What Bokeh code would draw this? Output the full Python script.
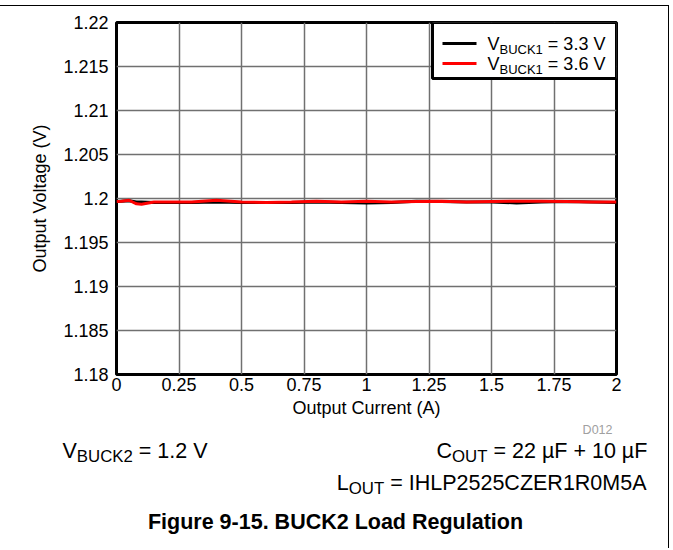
from bokeh.plotting import figure
from bokeh.layouts import column, row
from bokeh.models import Label, BoxAnnotation, FixedTicker, CustomJSTickFormatter
from bokeh.embed import file_html
from bokeh.resources import INLINE

# ---------------- data ----------------
current_a = [0.0, 0.02, 0.05, 0.08, 0.1, 0.15, 0.2, 0.3, 0.4, 0.5, 0.6, 0.7, 0.8, 0.9,
             1.0, 1.1, 1.2, 1.3, 1.4, 1.5, 1.6, 1.7, 1.8, 1.9, 2.0]
vout_33 = [1.19965, 1.1997, 1.19975, 1.1996, 1.1996, 1.19955, 1.19955, 1.19955, 1.1996,
           1.19955, 1.19955, 1.19955, 1.1996, 1.19955, 1.1995, 1.19955, 1.1997, 1.19965,
           1.1996, 1.1996, 1.1995, 1.1996, 1.19965, 1.1996, 1.19955]
vout_36 = [1.19965, 1.1997, 1.1998, 1.1994, 1.19935, 1.1996, 1.1996, 1.1996, 1.1998,
           1.1996, 1.19955, 1.1996, 1.1997, 1.1996, 1.1997, 1.1996, 1.19965, 1.1997,
           1.1996, 1.19965, 1.1997, 1.1997, 1.19965, 1.1996, 1.1996]
x_ticks = [0, 0.25, 0.5, 0.75, 1.0, 1.25, 1.5, 1.75, 2.0]
y_ticks = [1.18, 1.185, 1.19, 1.195, 1.2, 1.205, 1.21, 1.215, 1.22]
series = [("BUCK1", "= 3.3 V", vout_33, "black"), ("BUCK1", "= 3.6 V", vout_36, "#ff0000")]

FONT = "Liberation Sans"

# Arial advance widths (1/1000 em)
W = {" ": 278, "=": 584, ".": 278, "+": 584, "µ": 556, "A": 667, "B": 667, "C": 722,
     "E": 667, "F": 611, "H": 722, "I": 278, "K": 667, "L": 556, "M": 833, "O": 778,
     "P": 667, "R": 722, "T": 611, "U": 722, "V": 667, "Z": 611}


def tw(s, size):
    return sum(W.get(c, 556) for c in s) * size / 1000.0


# page geometry (page pixels); content starts OY below the page top, under the border
OY = 6
FL, FT, FR, FB = 116, 22, 616, 374
CH_W, CH_H = 668, 416
N_H = 126

p = figure(width=CH_W, height=CH_H, x_range=(0, 2), y_range=(1.18, 1.22),
           output_backend="svg", toolbar_location=None,
           min_border_left=FL, min_border_right=CH_W - FR, min_border_top=FT - OY,
           min_border_bottom=CH_H - (FB - OY))
p.outline_line_color = "black"
p.outline_line_width = 3
p.outline_line_alpha = 1.0

fmt = CustomJSTickFormatter(code="return String(parseFloat(tick.toFixed(4)))")
p.xaxis.ticker = FixedTicker(ticks=x_ticks)
p.yaxis.ticker = FixedTicker(ticks=y_ticks)
p.xgrid.ticker = FixedTicker(ticks=x_ticks)
p.ygrid.ticker = FixedTicker(ticks=y_ticks)
for ax in (p.xaxis, p.yaxis):
    ax.formatter = fmt
    ax.axis_line_color = None
    ax.major_tick_line_color = None
    ax.minor_tick_line_color = None
    ax.major_tick_out = 0
    ax.major_tick_in = 0
    ax.minor_tick_out = 0
    ax.minor_tick_in = 0
    ax.major_label_text_font = FONT
    ax.major_label_text_font_size = "18px"
    ax.major_label_text_color = "black"
    ax.axis_label_text_font = FONT
    ax.axis_label_text_font_size = "18px"
    ax.axis_label_text_font_style = "normal"
    ax.axis_label_text_color = "black"
p.xaxis.axis_label = "Output Current (A)"
p.yaxis.axis_label = "Output Voltage (V)"
p.xaxis.major_label_standoff = 3
p.yaxis.major_label_standoff = 8
p.xaxis.axis_label_standoff = 4
p.yaxis.axis_label_standoff = 10
for g in (p.xgrid, p.ygrid):
    g.grid_line_color = "#707070"
    g.grid_line_width = 1.5

for _, _, vals, col in series:
    p.line(current_a, vals, line_color=col, line_width=3)

# notes figure below the chart (frame = whole canvas)
q = figure(width=CH_W, height=N_H, x_range=(0, 1), y_range=(0, 1),
           output_backend="svg", toolbar_location=None,
           min_border_left=0, min_border_right=0, min_border_top=0, min_border_bottom=0,
           x_axis_type=None, y_axis_type=None)
q.outline_line_color = None
q.grid.visible = False


def chart_xy(px, py):
    return px - FL, FB - py


def notes_xy(px, py):
    return px, N_H - (py - OY - CH_H)


def rich(fig, conv, parts, x, yc, size, align="left", color="black", ratio=0.72):
    sub = round(size * ratio, 1)
    items = [(t, sub if s else size, s) for t, s in parts]
    total = sum(tw(t, s) for t, s, _ in items)
    if align == "right":
        x = x - total
    for t, s, is_sub in items:
        lead = len(t) - len(t.lstrip(" "))
        x += tw(" " * lead, s)
        t2 = t.lstrip(" ")
        y = yc + (0.22 * size + 0.35 * size - 0.35 * s if is_sub else 0)
        lx, ly = conv(x, y)
        fig.add_layout(Label(x=lx, y=ly, x_units="screen", y_units="screen", text=t2,
                             text_font=FONT, text_font_size=f"{s}px", text_color=color,
                             text_baseline="middle", text_align="left"))
        x += tw(t2, s)


def screen_box(fig, conv, left, top, right, bottom, **kw):
    l, t = conv(left, top)
    r, b = conv(right, bottom)
    fig.add_layout(BoxAnnotation(left=l, right=r, top=t, bottom=b,
                                 left_units="screen", right_units="screen",
                                 top_units="screen", bottom_units="screen", **kw))


# legend (drawn by hand to keep the subscripts)
screen_box(p, chart_xy, 432, 22, 616, 78, fill_color="white", fill_alpha=1.0,
           line_color="black", line_width=3, line_alpha=1.0)
for i, (sub, rest, _, col) in enumerate(series):
    yc = 43 + 20 * i
    screen_box(p, chart_xy, 442, yc - 1.5, 476, yc + 1.5, fill_color=col, fill_alpha=1.0,
               line_color=None)
    rich(p, chart_xy, [("V", False), (sub, True), (" " + rest, False)], 487, yc, 18)

# notes
dx, dy = notes_xy(612, 429)
q.add_layout(Label(x=dx, y=dy, x_units="screen", y_units="screen", text="D012",
                   text_font=FONT, text_font_size="12.5px", text_color="#a0a0a0",
                   text_baseline="middle", text_align="right"))
rich(q, notes_xy, [("V", False), ("BUCK2", True), (" = 1.2 V", False)], 62, 450, 21.5,
     ratio=0.78)
rich(q, notes_xy, [("C", False), ("OUT", True), (" = 22 µF + 10 µF", False)], 646, 450, 21.5,
     align="right", ratio=0.78)
rich(q, notes_xy, [("L", False), ("OUT", True), (" = IHLP2525CZER1R0M5A", False)], 646, 482,
     21.5, align="right", ratio=0.78)
tx, ty = notes_xy(335, 521)
q.add_layout(Label(x=tx, y=ty, x_units="screen", y_units="screen",
                   text="Figure 9-15. BUCK2 Load Regulation",
                   text_font=FONT, text_font_size="21.5px", text_font_style="bold",
                   text_color="black", text_baseline="middle", text_align="center"))

layout = column(p, row(q), spacing=0,
                styles={"border-top": "1.5px solid black", "border-right": "1.5px solid black",
                        "margin-top": "4.5px"})
open("out.html", "w").write(file_html(layout, INLINE))
